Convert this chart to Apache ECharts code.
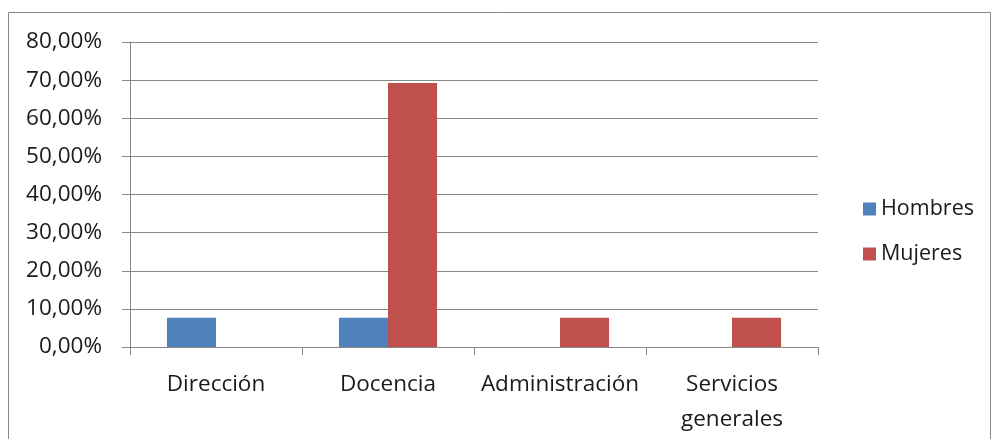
<!DOCTYPE html>
<html><head><meta charset="utf-8">
<script src="https://cdn.jsdelivr.net/npm/echarts@6/dist/echarts.min.js"></script>
<style>html,body{margin:0;padding:0;background:#fff}#c{width:991px;height:439px}</style>
</head><body><div id="c"></div>
<script>
const categories = ['Dirección', 'Docencia', 'Administración', 'Servicios\ngenerales'];
const seriesNames = ['Hombres', 'Mujeres'];
const hombres = [7.69, 7.69, 0, 0];
const mujeres = [0, 69.23, 7.69, 7.69];
const colors = ['#4F81BD', '#C0504D'];

const chart = echarts.init(document.getElementById('c'), null, {renderer: 'canvas'});
const font = '"Open Sans", "Noto Sans", sans-serif';
const axisGray = '#868686';
chart.setOption({
  animation: false,
  textStyle: {fontFamily: font},
  graphic: [{type: 'rect', shape: {x: 8.5, y: 12.5, width: 982, height: 430}, style: {fill: 'none', stroke: '#888', lineWidth: 1}, silent: true}],
  grid: {left: 130, top: 42, width: 688, height: 305, containLabel: false},
  legend: {
    orient: 'vertical', left: 858, top: 193, itemGap: 23,
    itemWidth: 13, itemHeight: 13, icon: 'rect', itemStyle: {borderWidth: 0},
    textStyle: {fontSize: 21.5, color: '#1a1a1a', fontFamily: font},
    data: seriesNames
  },
  xAxis: {
    type: 'category', data: categories,
    axisLine: {lineStyle: {color: axisGray, width: 1}},
    axisTick: {show: true, length: 8, alignWithLabel: false, lineStyle: {color: axisGray}},
    axisLabel: {fontSize: 22.5, color: '#1a1a1a', margin: 20, lineHeight: 35, fontFamily: font, interval: 0},
    splitLine: {show: false}
  },
  yAxis: {
    type: 'value', min: 0, max: 80, interval: 10,
    axisLine: {show: true, lineStyle: {color: axisGray}},
    axisTick: {show: true, length: 8, lineStyle: {color: axisGray}},
    axisLabel: {fontSize: 22.5, color: '#1a1a1a', margin: 28, fontFamily: font,
      formatter: v => v.toFixed(2).replace('.', ',') + '%'},
    splitLine: {lineStyle: {color: axisGray, width: 1}}
  },
  series: [
    {name: seriesNames[0], type: 'bar', data: hombres, itemStyle: {color: colors[0]}, barGap: '0%', barCategoryGap: '43%'},
    {name: seriesNames[1], type: 'bar', data: mujeres, itemStyle: {color: colors[1]}, barGap: '0%', barCategoryGap: '43%'}
  ]
});
</script></body></html>
